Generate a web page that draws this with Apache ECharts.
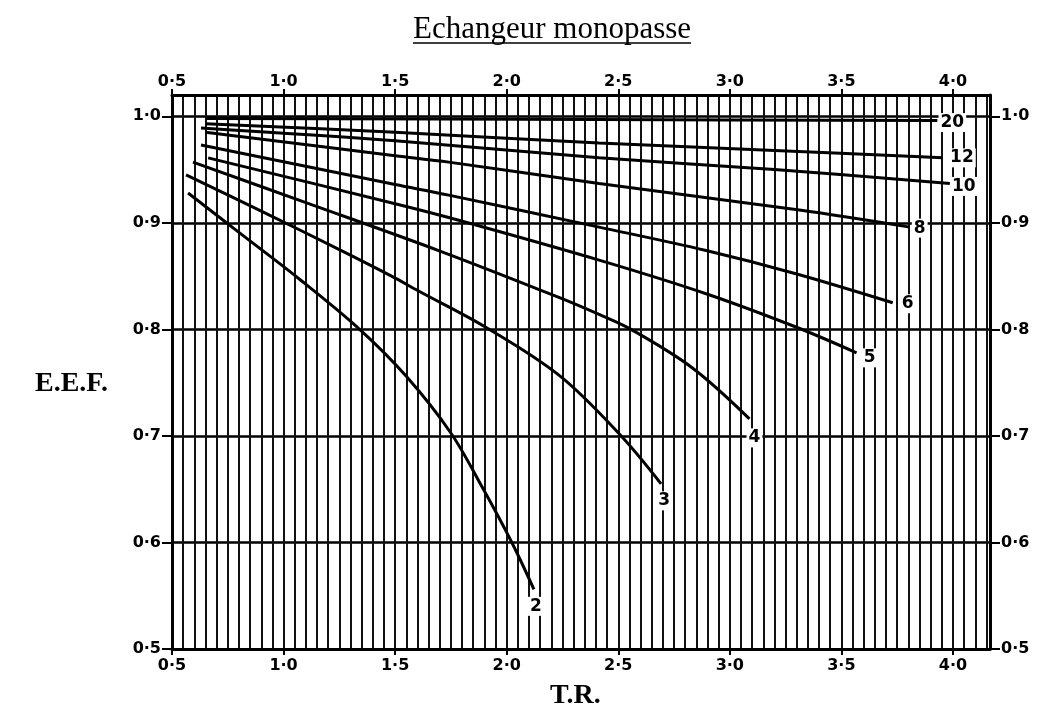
<!DOCTYPE html>
<html>
<head>
<meta charset="utf-8">
<script src="https://cdn.jsdelivr.net/npm/echarts@6/dist/echarts.min.js"></script>
<style>
  html, body { margin: 0; padding: 0; background: #fff; }
  #chart { width: 1037px; height: 717px; }
</style>
</head>
<body>
<div id="chart"></div>
<script>
// ---- Data ----
const titleText = 'Echangeur monopasse';
const xName = 'T.R.';
const yName = 'E.E.F.';
const xTicks = [0.5, 1.0, 1.5, 2.0, 2.5, 3.0, 3.5, 4.0];
const yTicks = [0.5, 0.6, 0.7, 0.8, 0.9, 1.0];

const curveNames = ['2', '3', '4', '5', '6', '8', '10', '12', '20'];

const tr2  = [0.572, 0.80, 1.066, 1.336, 1.55, 1.749, 1.89, 2.023, 2.122];
const eef2 = [0.928, 0.891, 0.848, 0.801, 0.756, 0.703, 0.652, 0.600, 0.556];

const tr3  = [0.563, 0.90, 1.259, 1.484, 1.605, 1.906, 2.234, 2.504, 2.692];
const eef3 = [0.945, 0.911, 0.874, 0.850, 0.836, 0.802, 0.757, 0.702, 0.655];

const tr4  = [0.594, 1.10, 1.695, 2.234, 2.414, 2.557, 2.831, 3.088];
const eef4 = [0.957, 0.919, 0.874, 0.830, 0.814, 0.800, 0.764, 0.716];

const tr5  = [0.662, 1.50, 1.74, 2.414, 2.90, 3.299, 3.568];
const eef5 = [0.961, 0.918, 0.905, 0.865, 0.833, 0.802, 0.778];

const tr6  = [0.63, 1.50, 1.74, 2.414, 2.894, 3.30, 3.73];
const eef6 = [0.973, 0.936, 0.926, 0.896, 0.874, 0.852, 0.825];

const tr8  = [0.65, 1.50, 1.74, 2.414, 3.312, 3.806];
const eef8 = [0.985, 0.963, 0.957, 0.937, 0.912, 0.896];

const tr10  = [0.63, 1.50, 2.414, 3.20, 3.986];
const eef10 = [0.989, 0.977, 0.961, 0.950, 0.937];

const tr12  = [0.65, 1.50, 2.414, 3.20, 3.955];
const eef12 = [0.993, 0.985, 0.975, 0.968, 0.961];

const tr20  = [0.65, 2.40, 3.93];
const eef20 = [0.998, 0.997, 0.996];

const curveX = [tr2, tr3, tr4, tr5, tr6, tr8, tr10, tr12, tr20];
const curveY = [eef2, eef3, eef4, eef5, eef6, eef8, eef10, eef12, eef20];

// ---- Layout / style ----
const labelOffsets = [[2,17],[3,17],[5,19],[13,5],[15,1],[10,1],[14,3],[19,0],[15,2]];
const gridBox = { left: 172, top: 95, right: 47, bottom: 68 };
const tickFont = { fontFamily: 'DejaVu Sans', fontWeight: 'bold', fontSize: 16, color: '#000' };
const fmt = v => (Math.round(v * 10) / 10).toFixed(1).replace('.', '\u00B7');

const chart = echarts.init(document.getElementById('chart'), null, { renderer: 'canvas' });

const series = curveNames.map((name, i) => ({
  name: name,
  type: 'line',
  xAxisIndex: 0,
  yAxisIndex: 0,
  showSymbol: false,
  symbol: 'none',
  smooth: 0.35,
  lineStyle: { color: '#000', width: 3 },
  data: curveX[i].map((x, k) => [x, curveY[i][k]]),
  endLabel: {
    show: true,
    formatter: name,
    distance: 0,
    align: 'center',
    verticalAlign: 'middle',
    offset: labelOffsets[i],
    ...tickFont,
    fontSize: 17,
    backgroundColor: '#fff',
    padding: [1, 2]
  },
  z: 3
}));

// measure title for underline
const cv = document.createElement('canvas').getContext('2d');
const titleFont = '31px "Liberation Serif"';
cv.font = titleFont;
const titleW = cv.measureText(titleText).width;
const titleCx = 552;

const axisCommonX = {
  type: 'value', min: 0.5, max: 4.166, interval: 0.5,
  axisLine: { show: true, lineStyle: { color: '#000', width: 3 } },
  axisTick: { show: true, inside: false, length: 6, customValues: xTicks, lineStyle: { color: '#000', width: 2 } },
  axisLabel: { show: true, customValues: xTicks, formatter: fmt, ...tickFont },
  splitLine: { show: false }
};
const axisCommonY = {
  type: 'value', min: 0.5, max: 1.02, interval: 0.1,
  axisLine: { show: true, lineStyle: { color: '#000', width: 3 } },
  axisTick: { show: true, inside: false, length: 10, customValues: yTicks, lineStyle: { color: '#000', width: 2 } },
  axisLabel: { show: true, customValues: yTicks, formatter: fmt, margin: 11, ...tickFont }
};

chart.setOption({
  backgroundColor: '#fff',
  animation: false,
  grid: { ...gridBox, containLabel: false },
  xAxis: [
    { ...axisCommonX, position: 'bottom', axisLabel: { ...axisCommonX.axisLabel, margin: 9 } },
    { ...axisCommonX, position: 'top', axisLabel: { ...axisCommonX.axisLabel, margin: 5 } },
    {
      type: 'value', min: 0.5, max: 4.166, interval: 0.05, position: 'bottom',
      axisLine: { show: false }, axisTick: { show: false }, axisLabel: { show: false },
      splitLine: { show: true, lineStyle: { color: '#111', width: 2 } }
    }
  ],
  yAxis: [
    { ...axisCommonY, position: 'left', splitLine: { show: true, lineStyle: { color: '#000', width: 2.5 } } },
    { ...axisCommonY, position: 'right', splitLine: { show: false } }
  ],
  series: series,
  graphic: [
    {
      type: 'text', left: titleCx - titleW / 2, top: 14,
      style: { text: titleText, font: titleFont, fill: '#000' }
    },
    {
      type: 'line',
      shape: { x1: titleCx - titleW / 2, y1: 43, x2: titleCx + titleW / 2, y2: 43 },
      style: { stroke: '#000', lineWidth: 1.5 }
    },
    {
      type: 'text', left: 35, top: 370,
      style: { text: yName, font: 'bold 28px "Liberation Serif"', fill: '#000' }
    },
    {
      type: 'text', left: 550, top: 682,
      style: { text: xName, font: 'bold 28px "Liberation Serif"', fill: '#000' }
    }
  ]
});
</script>
</body>
</html>
